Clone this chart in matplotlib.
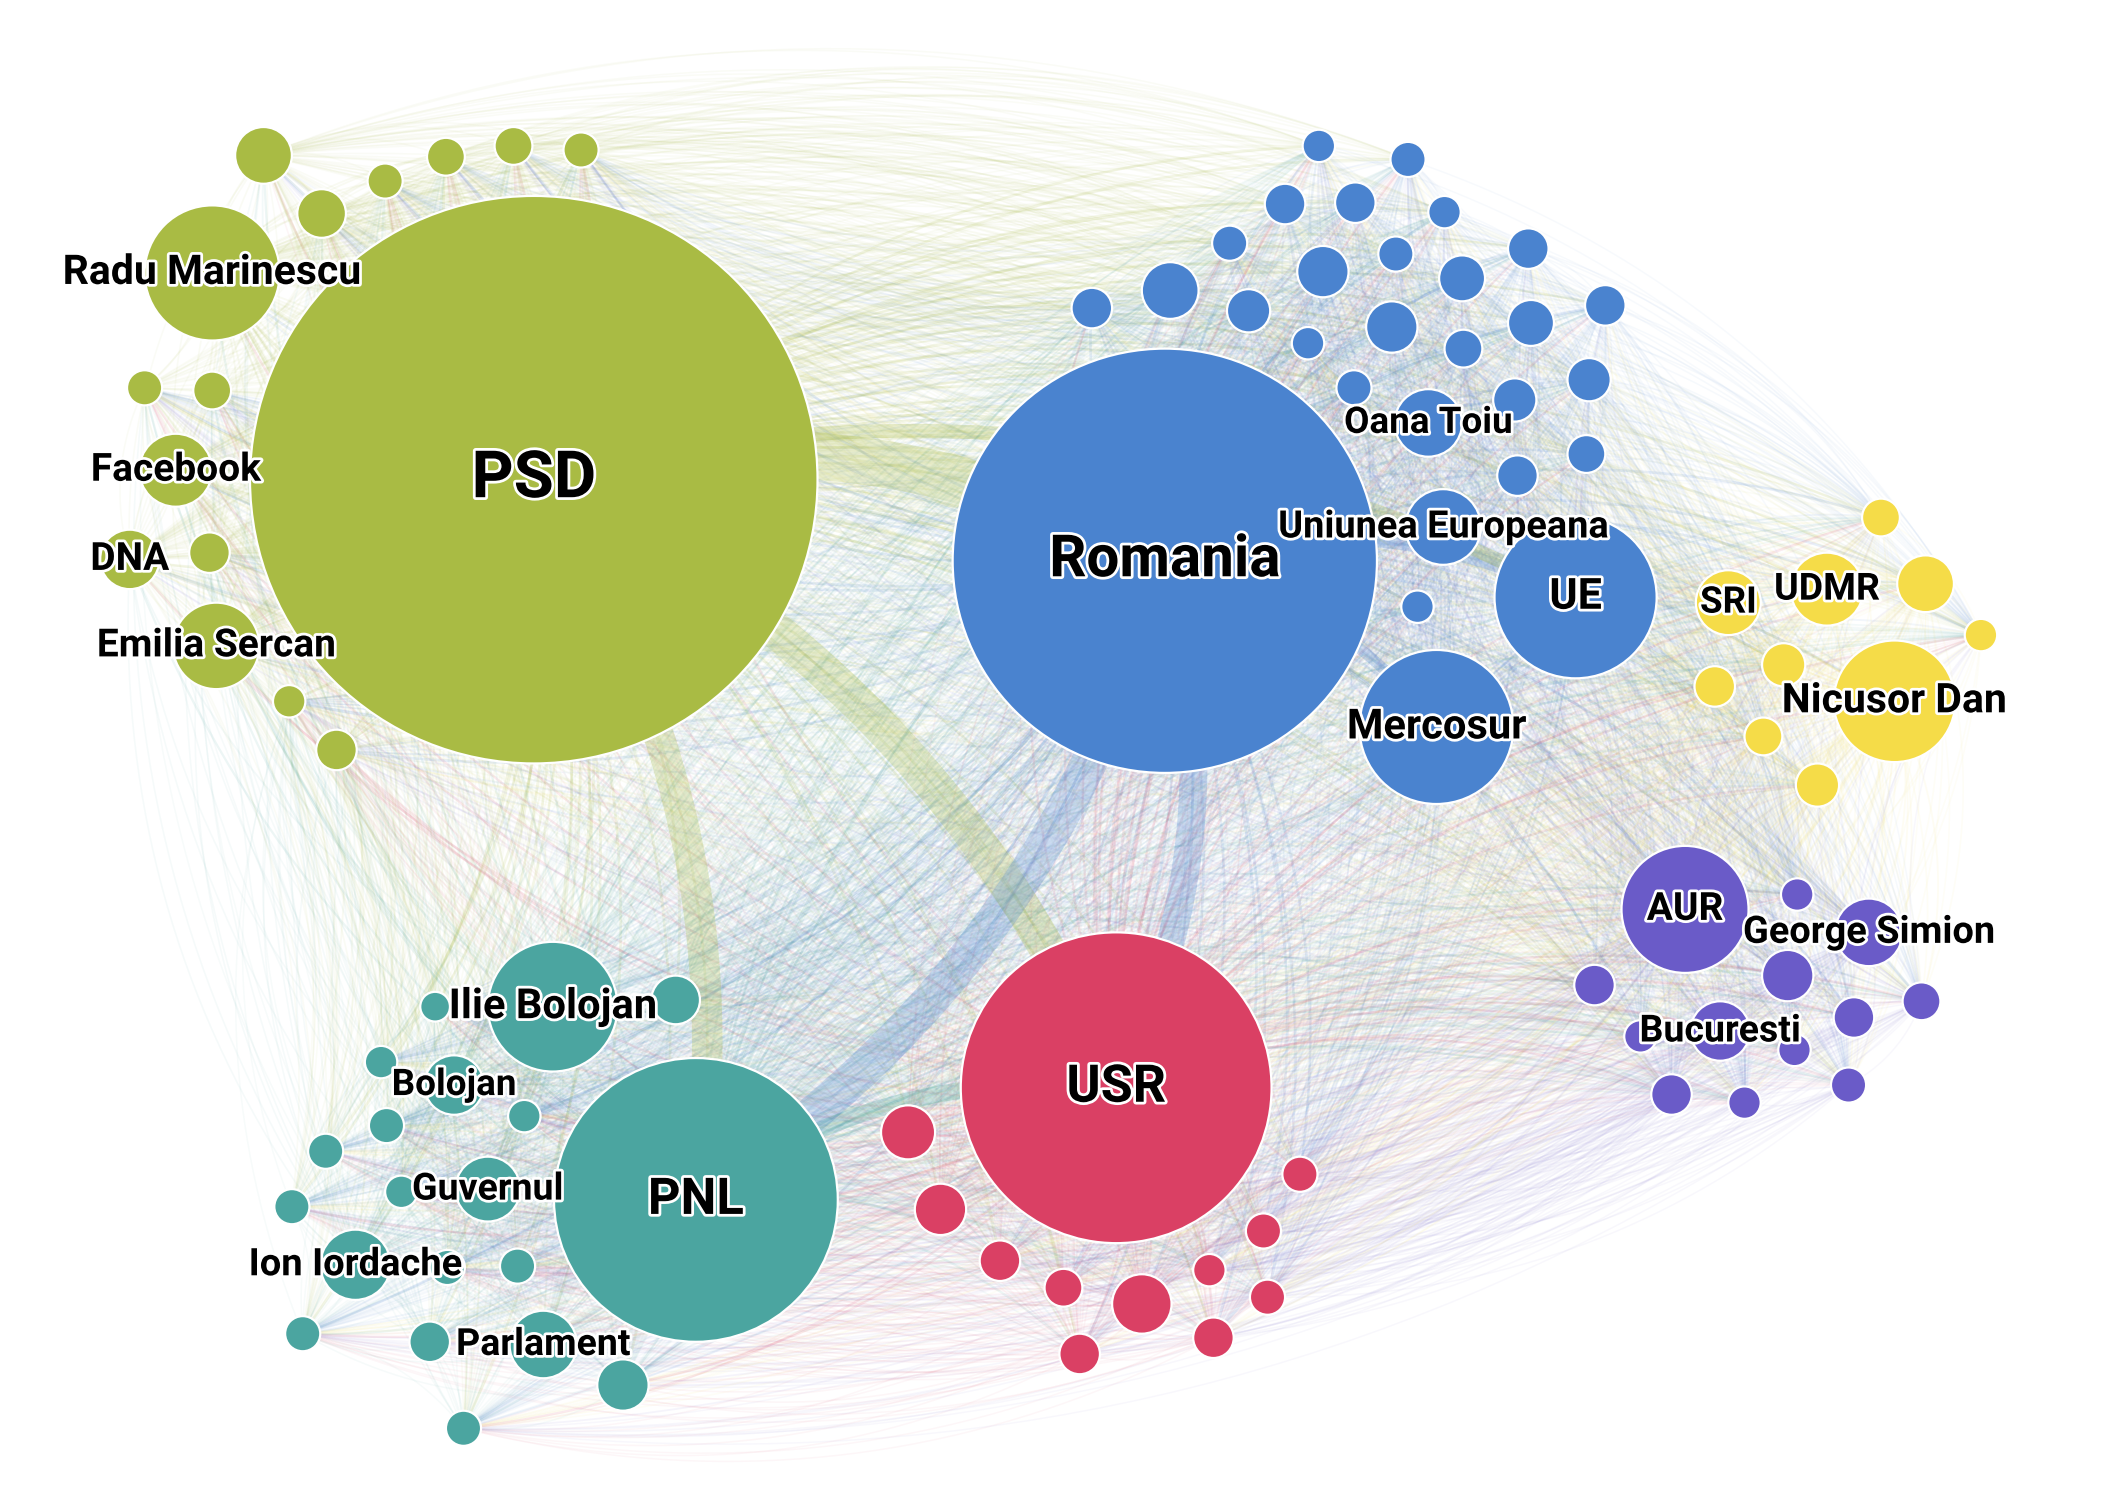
import numpy as np
import matplotlib
matplotlib.use("Agg")
import matplotlib.pyplot as plt
from matplotlib.patches import Circle
from matplotlib.collections import LineCollection
import matplotlib.patheffects as pe
from matplotlib.colors import to_rgba

# ---------------- data (coordinates in layout units) ----------------
psd_labels = ["PSD", "Radu Marinescu", "", "", "", "", "", "", "", "",
              "Facebook", "DNA", "", "Emilia Sercan", "", ""]
psd_x = [395, 157, 195, 238, 285, 330, 380, 430, 107, 157, 130, 96, 155, 160, 214, 249]
psd_y = [355, 202, 115, 158, 134, 116, 108, 111, 287, 289, 348, 414, 409, 478, 519, 555]
psd_r = [210, 50, 21, 18, 13, 14, 14, 13, 13, 14, 27, 22, 15, 32, 12, 15]

ro_labels = ["Romania", "UE", "Mercosur", "Uniunea Europeana", "Oana Toiu", "",
             "", "", "", "", "", "", "", "", "", "", "", "", "", "", "", "", "",
             "", "", "", "", "", ""]
ro_x = [862, 1166, 1063, 1068, 1057, 1049,
        976, 1042, 951, 1003, 1069, 910, 866, 979, 1033, 1082, 1131, 808, 924,
        1030, 1133, 1188, 968, 1083, 1176, 1002, 1121, 1123, 1174]
ro_y = [415, 442, 538, 390, 313, 449,
        108, 118, 151, 150, 157, 180, 215, 201, 188, 206, 184, 228, 230,
        242, 239, 226, 254, 258, 281, 287, 296, 352, 336]
ro_r = [157, 60, 57, 28, 25, 12,
        12, 13, 15, 15, 12, 13, 21, 19, 13, 17, 15, 15, 16,
        19, 17, 15, 12, 14, 16, 13, 16, 15, 14]

nd_labels = ["Nicusor Dan", "UDMR", "SRI", "", "", "", "", "", "", ""]
nd_x = [1402, 1352, 1279, 1392, 1425, 1466, 1269, 1320, 1305, 1345]
nd_y = [519, 436, 446, 383, 432, 470, 508, 492, 545, 581]
nd_r = [45, 27, 24, 14, 21, 12, 15, 16, 14, 16]

aur_labels = ["AUR", "George Simion", "Bucuresti", "", "", "", "", "", "", "", "", "", ""]
aur_x = [1247, 1383, 1273, 1330, 1323, 1180, 1422, 1372, 1214, 1328, 1237, 1291, 1368]
aur_y = [673, 690, 763, 662, 722, 729, 741, 753, 767, 777, 810, 816, 803]
aur_r = [47, 25, 22, 12, 19, 15, 14, 15, 12, 12, 15, 12, 13]

usr_labels = ["USR", "", "", "", "", "", "", "", "", "", "", ""]
usr_x = [826, 672, 696, 740, 787, 845, 895, 935, 962, 938, 898, 799]
usr_y = [805, 838, 895, 933, 953, 965, 940, 911, 869, 960, 990, 1002]
usr_r = [115, 20, 19, 15, 14, 22, 12, 13, 13, 13, 15, 15]

pnl_labels = ["PNL", "Ilie Bolojan", "Bolojan", "Guvernul", "Ion Iordache", "Parlament",
              "", "", "", "", "", "", "", "", "", "", "", "", "", ""]
pnl_x = [515, 409, 336, 361, 263, 402,
         322, 500, 282, 388, 286, 241, 297, 216, 331, 383, 224, 318, 461, 343]
pnl_y = [888, 745, 803, 880, 936, 995,
         745, 740, 786, 826, 833, 852, 882, 893, 938, 937, 987, 993, 1025, 1057]
pnl_r = [105, 48, 22, 24, 26, 25,
         11, 18, 12, 12, 13, 13, 12, 13, 13, 13, 13, 15, 19, 13]

# strong links between main nodes: (source, target, weight)
strong_src = ["PSD", "PSD", "PSD", "Romania", "Romania", "PNL", "Romania", "Romania", "PSD"]
strong_dst = ["Romania", "USR", "PNL", "USR", "PNL", "USR", "UE", "Mercosur", "UE"]
strong_w = [34, 26, 22, 20, 26, 12, 10, 8, 10]

# ---------------- styling ----------------
cluster_colors = ["#a9bb44", "#4a83cf", "#f5dc48", "#6a5bc8", "#da4064", "#4ba5a0"]
clusters = [
    (psd_labels, psd_x, psd_y, psd_r),
    (ro_labels, ro_x, ro_y, ro_r),
    (nd_labels, nd_x, nd_y, nd_r),
    (aur_labels, aur_x, aur_y, aur_r),
    (usr_labels, usr_x, usr_y, usr_r),
    (pnl_labels, pnl_x, pnl_y, pnl_r),
]
label_size = {"PSD": 47, "Romania": 42, "USR": 37.5, "PNL": 36.5, "UE": 31, "AUR": 28,
              "Nicusor Dan": 29.5, "Mercosur": 30, "Radu Marinescu": 29.5, "Ilie Bolojan": 30,
              "Emilia Sercan": 28, "Facebook": 28, "DNA": 28, "Oana Toiu": 26.5,
              "Uniunea Europeana": 27.3, "UDMR": 27, "SRI": 26.5, "George Simion": 27.3,
              "Bucuresti": 27, "Bolojan": 26.5, "Guvernul": 27, "Ion Iordache": 27.4,
              "Parlament": 27}

names, X, Y, R, C = [], [], [], [], []
for (lab, xs, ys, rs), col in zip(clusters, cluster_colors):
    names += lab
    X += xs
    Y += ys
    R += rs
    C += [col] * len(xs)
X = np.array(X, float)
Y = np.array(Y, float)
R = np.array(R, float)

W, H = 1560, 1116
fig = plt.figure(figsize=(21.08, 15.08), dpi=100)
ax = fig.add_axes([0, 0, 1, 1])
ax.set_xlim(0, W)
ax.set_ylim(H, 0)
ax.set_aspect("equal")
ax.axis("off")

t = np.linspace(0, 1, 40)[:, None]


def curve(p1, p2, bend):
    # quadratic curve bending to the visual left of the direction p1 -> p2
    d = p2 - p1
    m = (p1 + p2) / 2
    left = np.array([d[1], -d[0]])
    ctrl = m + left * bend
    return (1 - t) ** 2 * p1 + 2 * (1 - t) * t * ctrl + t ** 2 * p2


segs, cols, lws = [], [], []
N = len(X)
for i in range(N):
    for j in range(i + 1, N):
        s, e = (i, j) if R[i] >= R[j] else (j, i)
        pts = curve(np.array([X[s], Y[s]]), np.array([X[e], Y[e]]), 0.19)
        f = min(1.0, R[s] / 150.0)
        segs.append(pts)
        cols.append(to_rgba(C[s], 0.035 + 0.09 * f))
        lws.append(1.0 + 0.9 * f)
ax.add_collection(LineCollection(segs, colors=cols, linewidths=lws, zorder=1))

idx = {n: k for k, n in enumerate(names) if n}
ssegs, scols = [], []
for s, d_, w in zip(strong_src, strong_dst, strong_w):
    i, j = idx[s], idx[d_]
    ssegs.append(curve(np.array([X[i], Y[i]]), np.array([X[j], Y[j]]), 0.19))
    scols.append(to_rgba(C[i], 0.26))
ax.add_collection(LineCollection(ssegs, colors=scols, linewidths=strong_w, zorder=2,
                                 capstyle="butt"))

order = np.argsort(-R)
for k in order:
    ax.add_patch(Circle((X[k], Y[k]), R[k], facecolor=C[k], edgecolor="white",
                        linewidth=1.6, zorder=3))

for k in range(N):
    if names[k]:
        ax.text(X[k], Y[k], names[k], ha="center", va="center",
                fontsize=label_size.get(names[k], 27), fontweight="bold",
                family=["Roboto", "DejaVu Sans"], color="black", zorder=5,
                path_effects=[pe.withStroke(linewidth=4, foreground="white")])

fig.savefig("out.png", dpi=100, facecolor="white")
